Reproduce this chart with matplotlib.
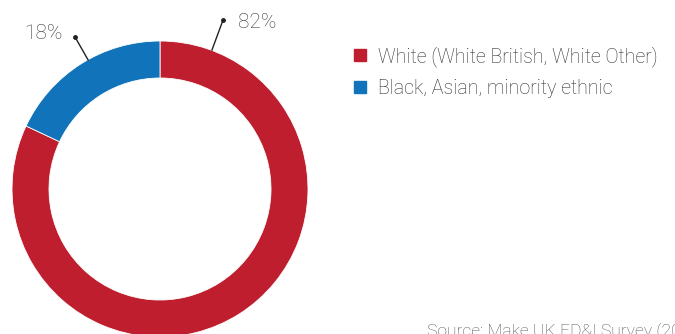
import matplotlib
matplotlib.use('Agg')
import matplotlib.pyplot as plt
from matplotlib.lines import Line2D

plt.rcParams['font.family'] = ['Roboto', 'DejaVu Sans']

# Données
categories = ['White (White British, White Other)', 'Black, Asian, minority ethnic']
values = [82, 18]
labels = ['82%', '18%']
colors = ['#BE1E2D', '#1174BB']
source = 'Source: Make UK ED&I Survey (2023)'

W, H = 675, 334
fig = plt.figure(figsize=(W / 100, H / 100), dpi=100)

# Donut : centre (160, 189) px, rayon 148 px
cx, cy, R = 160, 189, 148
ax = fig.add_axes([(cx - R) / W, (H - cy - R) / H, 2 * R / W, 2 * R / H])

wedges, _ = ax.pie(values, colors=colors, startangle=90, counterclock=False,
                   radius=1, wedgeprops=dict(width=0.25, edgecolor='white', linewidth=0.6))
for w in wedges:
    w.set_clip_on(False)
ax.set_xlim(-1, 1)
ax.set_ylim(-1, 1)
ax.set_aspect('equal')
ax.axis('off')

# Étiquettes avec traits de rappel
text_color = '#3a3a3a'
leaders = [((0.351, 0.939), (0.426, 1.142), (0.655, 1.128)),
           ((-0.486, 0.872), (-0.574, 1.027), (-0.79, 1.054))]
for lab, (p0, p1, pt) in zip(labels, leaders):
    ax.plot([p0[0], p1[0]], [p0[1], p1[1]], color='#222222', lw=1.0, clip_on=False)
    ax.plot(p1[0], p1[1], 'o', color='#222222', markersize=2.5, clip_on=False)
    ax.text(pt[0], pt[1], lab, ha='center', va='center', fontsize=15,
            fontweight='light', color=text_color, clip_on=False)

# Légende
handles = [Line2D([0], [0], marker='s', linestyle='none', markersize=8.5,
                  markerfacecolor=c, markeredgecolor=c) for c in colors]
fig.legend(handles, categories, loc='upper left', bbox_to_anchor=(350 / W, 1 - 46 / H),
           frameon=False, handlelength=1.0, handletextpad=0.45,
           labelspacing=0.62, borderpad=0, borderaxespad=0,
           prop=dict(size=14.1, weight='light'), labelcolor='#2e2e2e')

fig.text(427 / W, 1 - 323 / H, source, ha='left', va='top', fontsize=12.6,
         fontweight='light', color='#555555')

fig.savefig('out.png', dpi=100)
